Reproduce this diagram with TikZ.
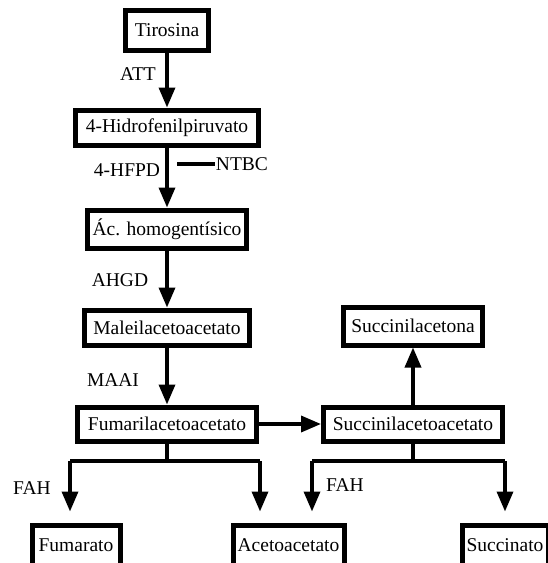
\documentclass[tikz,border=0pt]{standalone}
\usepackage{fontspec}
\setmainfont{Liberation Serif}
\usetikzlibrary{arrows.meta}

\begin{document}
\begin{tikzpicture}[x=1pt,y=-1pt,line join=miter,
    >={Triangle[width=16pt,length=20pt]},
    every node/.style={font=\fontsize{19.5}{23}\selectfont},
    metab/.style={draw,line width=5pt,rectangle,inner sep=0pt},
    enz/.style={inner sep=1pt},
    conn/.style={line width=3.5pt},
    arr/.style={line width=3.5pt,->}]

        % Picture frame
        \clip (0,0) rectangle (548,563);

        % Main pathway
        \node[metab, minimum width=83pt, minimum height=40pt] (tir) at (167,30) {Tirosina};
        \node[metab, minimum width=183pt, minimum height=35pt] (hpp) at (167,127.5) {4-Hidrofenilpiruvato};
        \node[metab, minimum width=159pt, minimum height=38pt] (hga) at (167,229) {Ác. homogentísico};
        \node[metab, minimum width=165pt, minimum height=35pt] (maa) at (167,327.5) {Maleilacetoacetato};
        \node[metab, minimum width=179pt, minimum height=34pt] (faa) at (167,424) {Fumarilacetoacetato};

        % Side branch
        \node[metab, minimum width=179pt, minimum height=34pt] (saa) at (413,424) {Succinilacetoacetato};
        \node[metab, minimum width=139pt, minimum height=38pt] (sac) at (413,326) {Succinilacetona};

        % End products
        \node[metab, minimum width=88pt, minimum height=40pt] (fum) at (76,545) {Fumarato};
        \node[metab, minimum width=111pt, minimum height=40pt] (ace) at (288.5,545) {Acetoacetato};
        \node[metab, minimum width=86pt, minimum height=40pt] (suc) at (505,545) {Succinato};

        % Enzymes
        \node[enz] (att) at (138,74) {ATT};
        \node[enz] (hfpd) at (127,170) {4-HFPD};
        \node[enz] (ahgd) at (120,280) {AHGD};
        \node[enz] (maai) at (113,380) {MAAI};
        \node[enz] (fahl) at (32,488) {FAH};
        \node[enz] (fahr) at (345,485) {FAH};
        \node[enz] (ntbc) at (242,164) {NTBC};

        % Arrows of the main pathway
        \draw[arr] (tir.south) -- (hpp.north);
        \draw[arr] (hpp.south) -- (hga.north);
        \draw[arr] (hga.south) -- (maa.north);
        \draw[arr] (maa.south) -- (faa.north);
        \draw[arr] (faa.east) -- (saa.west);
        \draw[arr] (saa.north) -- (sac.south);

        % Inhibitor
        \coordinate (inh) at (177,164);
        \draw[conn] (inh) -- (ntbc.west);

        % Split of Fumarilacetoacetato
        \coordinate (fl) at (70,461);
        \coordinate (fr) at (260,461);
        \draw[conn] (faa.south) -- (faa.south |- fl);
        \draw[conn] (fl) -- (fr);
        \draw[arr, shorten >=11pt] (fl) -- (fl |- fum.north);
        \draw[arr, shorten >=11pt] (fr) -- (fr |- ace.north);

        % Split of Succinilacetoacetato
        \coordinate (sl) at (312,461);
        \coordinate (sr) at (505,461);
        \draw[conn] (saa.south) -- (saa.south |- sl);
        \draw[conn] (sl) -- (sr);
        \draw[arr, shorten >=11pt] (sl) -- (sl |- ace.north);
        \draw[arr, shorten >=11pt] (sr) -- (sr |- suc.north);

    \end{tikzpicture}
\end{document}
